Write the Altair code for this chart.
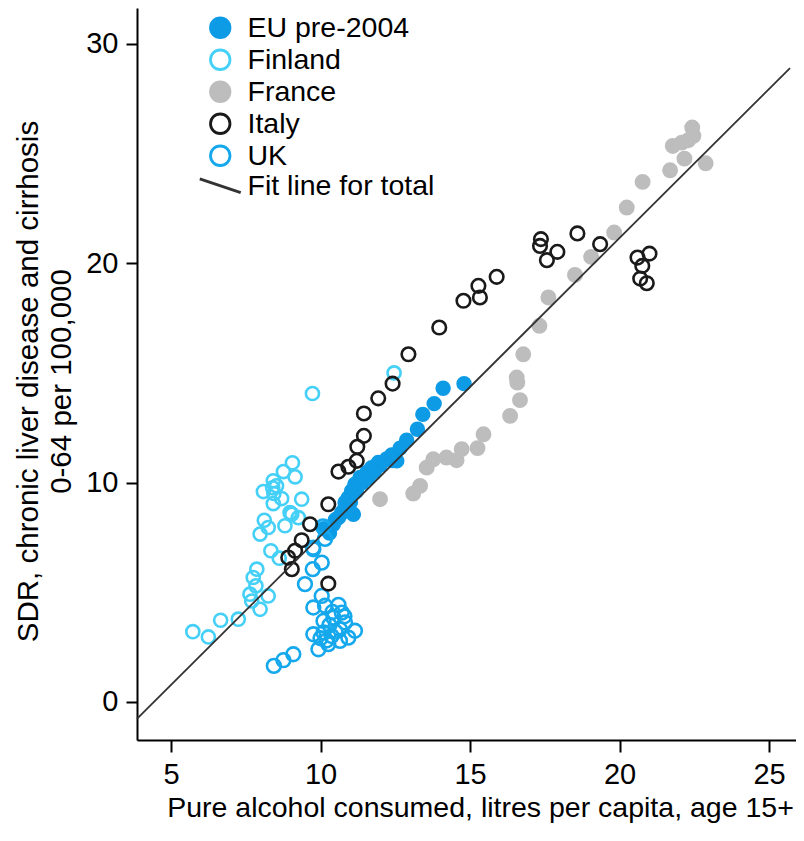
import altair as alt
import pandas as pd

# ---- data ----
eu_x = [10.1, 10.3, 10.43, 10.5, 10.6, 10.7, 10.76, 10.82, 10.9, 10.93, 11.0, 11.04, 11.1, 11.15,
        11.2, 11.32, 11.4, 11.55, 11.6, 11.71, 11.8, 11.93, 12.0, 12.21, 12.38, 12.4, 12.55, 12.66,
        12.88, 13.24, 13.42, 13.8, 14.1, 14.8]
eu_y = [7.9, 7.7, 8.1, 8.3, 8.4, 8.6, 8.71, 9.09, 8.9, 9.31, 9.1, 9.62, 8.55, 9.92,
        9.6, 10.23, 10.0, 10.46, 10.2, 10.68, 10.5, 10.91, 10.8, 11.07, 11.26, 11.0, 10.99, 11.57,
        11.93, 12.43, 13.11, 13.6, 14.3, 14.51]

fi_x = [5.73, 6.25, 6.66, 7.25, 7.64, 7.7, 7.75, 7.84, 7.87, 7.98, 8.25, 8.34, 8.62, 7.98, 8.12,
        8.25, 8.81, 8.98, 9.26, 8.09, 8.44, 8.42, 8.7, 9.37, 8.42, 8.53, 8.76, 9.15, 9.06, 9.73,
        12.46, 9.04, 8.4]
fi_y = [3.2, 2.96, 3.72, 3.77, 4.91, 4.6, 5.67, 5.29, 6.05, 4.22, 4.83, 6.89, 6.55, 7.65, 8.28,
        7.95, 8.03, 8.63, 8.4, 9.59, 9.5, 9.04, 9.27, 9.24, 10.08, 9.85, 10.5, 10.26, 10.9, 14.06,
        15.0, 8.56, 9.76]

fr_x = [11.99, 13.1, 13.33, 13.55, 13.77, 14.21, 14.55, 14.72, 15.25, 15.45, 16.34, 16.67, 16.56,
        16.58, 16.78, 17.32, 17.62, 18.51, 19.05, 19.82, 20.24, 20.77, 21.69, 22.17, 21.78, 22.08,
        22.3, 22.47, 22.43, 22.88]
fr_y = [9.24, 9.5, 9.85, 10.68, 11.06, 11.14, 11.02, 11.52, 11.57, 12.2, 13.04, 13.76, 14.79,
        14.56, 15.85, 17.15, 18.44, 19.47, 20.29, 21.4, 22.54, 23.71, 24.24, 24.77, 25.35, 25.5,
        25.61, 25.81, 26.19, 24.56]

uk_x = [8.44, 8.76, 9.09, 9.93, 10.26, 10.65, 10.93, 9.76, 10.1, 10.37, 10.65, 11.15, 10.1, 10.43,
        10.82, 10.71, 9.76, 10.15, 10.6, 10.04, 9.48, 9.74, 10.04, 9.75, 10.15, 10.08, 9.76,
        10.3, 10.5, 10.0, 10.8, 10.4, 10.2]
uk_y = [1.64, 1.9, 2.17, 2.4, 2.63, 2.78, 2.93, 3.08, 3.16, 3.0, 3.31, 3.24, 3.69, 3.84,
        3.62, 4.07, 4.3, 4.38, 4.42, 4.83, 5.37, 6.05, 6.35, 7.03, 7.43, 8.0, 6.96,
        3.5, 3.2, 2.9, 3.9, 4.1, 2.8]

it_x = [9.04, 8.92, 9.15, 9.37, 9.65, 10.26, 10.26, 10.6, 10.93, 11.21, 11.23, 11.45, 11.45, 11.93,
        12.41, 12.94, 13.97, 14.78, 15.33, 15.28, 15.89, 17.37, 17.34, 17.57, 17.92, 18.59, 19.35,
        20.6, 21.0, 20.76, 20.69, 20.91]
it_y = [6.05, 6.58, 6.89, 7.37, 8.1, 5.39, 9.01, 10.5, 10.72, 10.99, 11.63, 12.13, 13.15, 13.84,
        14.51, 15.85, 17.07, 18.29, 18.44, 18.97, 19.38, 21.1, 20.79, 20.14, 20.52, 21.36, 20.87,
        20.26, 20.44, 19.88, 19.3, 19.09]

fit_x = [3.86, 25.7]
fit_y = [-0.78, 28.9]

groups = ["EU pre-2004", "Finland", "France", "Italy", "UK", "Fit line for total"]
stroke_colors = ["#0e9be6", "#45d0f7", "#bdbdbd", "#1a1a1a", "#15a8ec", "#333333"]
fill_colors = ["#0e9be6", "transparent", "#bdbdbd", "transparent", "transparent", "transparent"]
shapes = ["circle", "circle", "circle", "circle", "circle", "M-2.1,-0.7L2.1,0.7"]
point_groups = ["EU pre-2004", "Finland", "France", "Italy", "UK"]
sizes = [165, 190, 105, 190, 190]

x_ticks = [5, 10, 15, 20, 25]
y_ticks = [0, 10, 20, 30]

# ---- build tables ----
rows = []
for name, xs, ys in [("France", fr_x, fr_y), ("EU pre-2004", eu_x, eu_y),
                     ("Finland", fi_x, fi_y), ("UK", uk_x, uk_y), ("Italy", it_x, it_y)]:
    for a, b in zip(xs, ys):
        rows.append({"x": a, "y": b, "group": name})
pts = pd.DataFrame(rows)
fit = pd.DataFrame({"x": fit_x, "y": fit_y})

xscale = alt.Scale(domain=[3.863, 25.9], nice=False, zero=False)
yscale = alt.Scale(domain=[-1.74, 31.64], nice=False, zero=False)

xaxis = alt.Axis(values=x_ticks, title="Pure alcohol consumed, litres per capita, age 15+",
                 titleX=343, titleY=76, titleBaseline="alphabetic", titleAlign="center",
                 titleFontSize=28.5, labelPadding=8, tickSize=12)
yaxis = alt.Axis(values=y_ticks,
                 title=["SDR, chronic liver disease and cirrhosis", "0-64 per 100,000"],
                 titleAngle=270, titleX=-100, titleY=373, titleBaseline="alphabetic",
                 titleAlign="center", titleLineHeight=33, labelPadding=8, tickSize=11)

leg = alt.Legend(title=None, orient="none", legendX=69, legendY=5.5, padding=0,
                 symbolSize=380, symbolStrokeWidth=2.8, labelFontSize=28.5,
                 labelFont="Liberation Sans", labelColor="black", labelOffset=13,
                 rowPadding=0, labelLimit=400)

points = alt.Chart(pts).mark_point(strokeWidth=2.6, opacity=1).encode(
    x=alt.X("x:Q", scale=xscale, axis=xaxis),
    y=alt.Y("y:Q", scale=yscale, axis=yaxis),
    stroke=alt.Stroke("group:N", scale=alt.Scale(domain=groups, range=stroke_colors), legend=leg),
    fill=alt.Fill("group:N", scale=alt.Scale(domain=groups, range=fill_colors), legend=leg),
    shape=alt.Shape("group:N", scale=alt.Scale(domain=groups, range=shapes), legend=leg),
    size=alt.Size("group:N", scale=alt.Scale(domain=point_groups, range=sizes), legend=None),
)

line = alt.Chart(fit).mark_line(color="#333333", strokeWidth=1.8).encode(
    x=alt.X("x:Q", scale=xscale),
    y=alt.Y("y:Q", scale=yscale),
)

chart = alt.layer(points, line).properties(
    width=659, height=732,
    autosize=alt.AutoSizeParams(type="none"),
    padding={"left": 129, "top": 0, "right": 0, "bottom": 85},
).configure(
    font="Liberation Sans",
).configure_view(
    stroke=None,
).configure_axis(
    grid=False, domainColor="black", domainWidth=2, tickColor="black", tickWidth=2,
    labelFont="Liberation Sans", labelFontSize=29, labelColor="black",
    titleFont="Liberation Sans", titleFontSize=29.5, titleFontWeight="normal", titleColor="black",
)

chart.save("out.html", embed_options={"renderer": "svg", "actions": False})
